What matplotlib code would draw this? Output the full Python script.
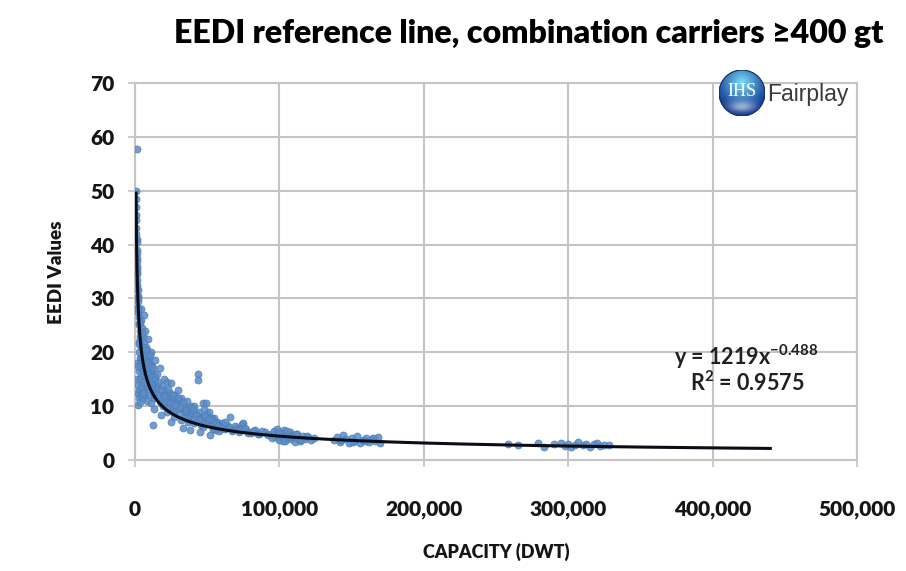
import numpy as np
import matplotlib
matplotlib.use("Agg")
import matplotlib.pyplot as plt
from matplotlib.patches import Circle

plt.rcParams['font.family'] = ['Lato', 'DejaVu Sans']
plt.rcParams['mathtext.fontset'] = 'custom'
plt.rcParams['mathtext.rm'] = 'Lato:bold'
plt.rcParams['mathtext.bf'] = 'Lato:bold'

# Small combination carriers (capacity in DWT, attained EEDI)
small_dwt = [700, 750, 800, 850, 900, 950, 1000, 1050, 1100, 1150, 1200, 1250,
             1300, 1300, 1350, 1400, 1450, 1500, 1600, 1700, 1800, 1900, 2000,
             2100, 2200, 2400, 2600, 2800, 3000, 3200, 3500, 3800, 4000, 4500,
             5000, 5500, 6000, 6500, 7000, 7500, 8000, 9000, 9500, 10000, 11000,
             12000, 13000, 14000,
             1200, 1500, 1800, 2000, 2200, 2500, 2800, 3000, 3300, 3500, 4000,
             4200, 4500, 5000, 5500, 6000, 6500, 7000, 7500, 8000, 8500, 9000,
             9500, 10000, 10500, 11000, 11500, 12000, 12700, 13000, 13500, 14000,
             14500,
             3000, 3500, 4000, 4500, 5000, 5500, 6000, 6500, 7000, 7500, 8000,
             8500, 9000, 10000, 11000, 12000, 13000, 14000,
             1600, 2300, 2700, 3100, 3600, 4100, 4700, 5200, 5800, 6300, 6800,
             7300, 7800, 8300, 8800, 9300, 9800, 10300, 10800, 11300, 11800,
             12300, 12800, 13300, 13800, 14300, 2400, 3400, 4400, 5400, 6400]
small_eedi = [50.0, 48.5, 47.0, 45.5, 44.5, 43.0, 42.0, 41.0, 40.5, 39.0, 38.5, 37.5,
              57.8, 37.0, 36.0, 35.5, 35.0, 34.5, 33.5, 32.5, 31.5, 30.5, 30.0,
              29.5, 28.5, 27.5, 26.5, 25.5, 25.0, 24.0, 23.0, 22.5, 26.0, 28.0,
              24.5, 23.0, 27.0, 22.0, 24.0, 21.0, 20.5, 22.5, 19.0, 18.0, 20.0,
              17.5, 16.0, 18.5,
              18.0, 15.0, 12.5, 10.2, 14.0, 11.5, 16.5, 13.0, 19.0, 10.8, 15.5,
              12.0, 17.0, 14.0, 11.5, 13.0, 16.5, 12.0, 18.0, 14.5, 11.0, 13.5,
              16.0, 12.0, 14.5, 10.5, 13.0, 15.0, 6.5, 11.5, 9.5, 12.5,
              14.0,
              20.0, 17.5, 19.0, 21.0, 18.5, 20.0, 16.5, 19.5, 17.0, 15.0, 17.5,
              19.0, 16.0, 15.5, 16.5, 13.5, 14.0, 15.5,
              32.0, 28.0, 22.0, 21.5, 25.5, 18.0, 23.5, 16.5, 21.0, 18.5, 20.5,
              14.0, 19.5, 16.0, 18.0, 15.0, 17.0, 19.5, 13.5, 17.5, 15.5,
              14.5, 17.0, 12.0, 15.0, 13.0, 17.5, 15.0, 13.5, 12.5, 14.5]

# Medium-size carriers
mid_dwt = [15000, 15500, 16000, 17000, 17500, 18000, 18500, 19000, 20000, 20500,
           21000, 22000, 22500, 23000, 24000, 25000, 25500, 26000, 27000, 28000,
           29000, 30000, 30500, 31000, 32000, 33000, 34000, 35000, 36000, 37000,
           38000, 39000, 40000, 41000, 42000, 43700, 43700, 44000, 45000, 46000,
           47000, 48000, 49000, 50000, 51000, 52000, 53000, 54000, 55000, 56000,
           57000, 58000, 60000, 62000, 64000, 66000, 68000, 70000, 72000, 74000,
           75000, 77000, 80000, 83000, 86000, 90000,
           25000, 33000, 38000, 45000, 52000,
           16500, 19500, 21500, 23500, 26500, 28500, 31500, 34500, 36500, 39500,
           42500, 46500, 48500, 50500, 53500, 56500, 59000, 61000, 63000, 65000,
           67000, 69000, 71000, 73000, 76000, 78000, 82000, 85000, 88000, 92000,
           18000, 22000, 27000, 32000, 37000, 41000, 47000, 54000, 58000,
           16000, 18500, 21000, 24000, 26000, 29500, 33500, 35500, 38500, 40500,
           44500, 48000, 51500, 55500, 57500, 60500, 62500, 20000, 23000, 28000]
mid_eedi = [16.0, 12.5, 13.5, 17.0, 11.0, 8.3, 14.0, 12.0, 15.0, 10.5,
            13.0, 11.5, 14.5, 9.5, 12.5, 14.3, 10.0, 11.5, 9.0, 12.0,
            10.5, 13.0, 8.5, 11.0, 11.5, 9.5, 10.0, 8.2, 11.0, 9.0,
            7.5, 10.0, 8.5, 10.0, 7.2, 15.9, 14.8, 9.0, 8.0, 6.5,
            10.5, 7.5, 10.6, 8.5, 9.0, 6.8, 7.8, 6.0, 7.8, 5.5,
            7.0, 6.2, 6.8, 5.8, 6.5, 8.0, 5.6, 6.0, 5.2, 6.6,
            6.9, 5.5, 5.0, 5.6, 4.8, 5.2,
            7.0, 5.9, 5.5, 5.2, 4.6,
            12.0, 10.0, 12.5, 11.0, 10.5, 9.5, 9.8, 9.0, 8.0, 8.8,
            8.6, 7.8, 8.2, 7.2, 7.4, 6.6, 6.0, 6.4, 5.9, 6.2,
            5.4, 6.3, 5.7, 5.5, 5.9, 5.1, 5.4, 4.9, 5.3, 4.7,
            10.5, 9.0, 8.0, 7.5, 7.0, 6.8, 6.2, 5.8, 5.3,
            14.5, 13.0, 11.0, 10.5, 12.0, 11.5, 10.8, 9.2, 9.6, 9.4,
            7.6, 9.4, 7.6, 6.8, 6.4, 5.9, 7.0, 11.8, 13.2, 10.2]

# Large carriers
large_dwt = [94000, 96000, 97000, 98000, 99000, 100000, 101000, 102000, 103000,
             104000, 105000, 106000, 107000, 108000, 109000, 110000, 111000,
             112000, 113000, 114000, 116000, 118000, 120000, 122000, 124000,
             95000, 99500, 102500, 105500, 108500, 111500, 115000, 119000,
             138000, 140000, 142000, 144000, 146000, 148000, 150000, 152000,
             154000, 156000, 158000, 160000, 162000, 164000, 166000, 168000,
             170000, 143000, 151000, 159000, 165000,
             258000, 265000, 279000, 283000, 290000, 295000, 298000, 300000,
             302000, 305000, 307000, 310000, 312000, 315000, 318000, 320000,
             322000, 325000, 328000]
large_eedi = [4.8, 5.3, 4.2, 5.8, 4.5, 3.8, 5.0, 4.4, 5.6,
              3.5, 4.7, 4.1, 5.2, 3.9, 4.6, 4.3, 3.3,
              4.8, 4.0, 3.6, 4.4, 3.9, 4.2, 3.7, 4.0,
              4.0, 5.0, 3.6, 5.4, 4.4, 4.9, 3.8, 4.5,
              3.8, 4.2, 3.4, 4.6, 3.9, 3.2, 4.0, 3.6,
              4.4, 3.1, 3.8, 4.1, 3.4, 3.9, 3.5, 4.3,
              3.2, 3.7, 3.3, 3.6, 4.0,
              3.0, 2.8, 3.1, 2.5, 2.9, 3.2, 2.6, 3.0,
              2.4, 2.8, 3.3, 2.7, 3.0, 2.5, 2.9, 3.1,
              2.6, 2.8, 2.7]

# Power-law reference line  y = a * x^b
fit_coef = 1219
fit_exp = -0.488
fit_r2 = 0.9575
fit_dwt_start = 700
fit_dwt_end = 441000

x_ticks = [0, 100000, 200000, 300000, 400000, 500000]
y_ticks = [0, 10, 20, 30, 40, 50, 60, 70]

W, H = 906, 571
fig = plt.figure(figsize=(W / 100, H / 100), dpi=100)
fig.patch.set_facecolor('white')


def px(x0, y0, w, h):
    return [x0 / W, 1 - (y0 + h) / H, w / W, h / H]


ax = fig.add_axes(px(135, 83, 722, 377))

grid_c = '#c4c4c4'
dot_c = '#5b8cc6'
text_c = '#151515'

dwt = np.array(small_dwt + mid_dwt + large_dwt, dtype=float)
eedi = np.array(small_eedi + mid_eedi + large_eedi, dtype=float)
ax.scatter(dwt, eedi, s=26, color=dot_c, edgecolor='#4a7bb5', linewidths=0.5,
           alpha=0.85, zorder=3)

xs = np.geomspace(fit_dwt_start, fit_dwt_end, 600)
ax.plot(xs, fit_coef * xs ** fit_exp, color='#0a0d18', lw=2.2, zorder=4,
        solid_capstyle='butt')

ax.set_xlim(x_ticks[0], x_ticks[-1])
ax.set_ylim(y_ticks[0], y_ticks[-1])
ax.set_xticks(x_ticks)
ax.set_yticks(y_ticks)
ax.set_xticklabels([f"{v:,}" for v in x_ticks])
ax.set_yticklabels([str(v) for v in y_ticks])
ax.grid(True, color=grid_c, lw=1.5)
ax.set_axisbelow(True)
for s in ax.spines.values():
    s.set_color(grid_c)
    s.set_linewidth(1.5)
ax.tick_params(axis='both', direction='out', length=5, width=1.2, color=grid_c,
               labelsize=15, labelcolor=text_c)
ax.tick_params(axis='y', pad=10)
ax.tick_params(axis='x', pad=24)
for lab in ax.get_xticklabels() + ax.get_yticklabels():
    lab.set_fontweight('heavy')

fig.text(496 / W, 1 - 552 / H, 'CAPACITY (DWT)', ha='center', va='center',
         fontsize=13, fontweight='heavy', color=text_c)
fig.text(56 / W, 1 - 272 / H, 'EEDI Values', ha='center', va='center',
         rotation=90, fontsize=13.5, fontweight='heavy', color=text_c)

# title, sized to span its box
title = fig.text(529 / W, 1 - 33 / H,
                 'EEDI reference line, combination carriers \u2265400 gt',
                 ha='center', va='center', fontsize=20, fontweight='heavy',
                 color='#000000')
fig.canvas.draw()
tw = title.get_window_extent().width
title.set_fontsize(20 * 711 / tw)

ax.text(0.846, (460 - 357) / 377, r'y = 1219x$^{-0.488}$', transform=ax.transAxes,
        ha='center', va='center', fontsize=15.5, fontweight='bold', color='#202020')
ax.text(0.848, (460 - 383) / 377, r'R$^{2}$ = 0.9575', transform=ax.transAxes,
        ha='center', va='center', fontsize=15.5, fontweight='bold', color='#202020')

# IHS Fairplay badge
lax = fig.add_axes(px(719, 70, 46, 46))
lax.set_xlim(-1, 1)
lax.set_ylim(-1, 1)
lax.set_aspect('equal')
lax.axis('off')
g = np.linspace(-1, 1, 200)
gx, gy = np.meshgrid(g, g)
d = np.sqrt(gx ** 2 + (gy + 0.45) ** 2)
t = np.clip(1 - d / 1.3, 0, 1)
edge = np.array([0.04, 0.20, 0.55])
glow = np.array([0.50, 0.88, 0.98])
img = edge + (glow - edge) * t[..., None] ** 1.1
hl = np.exp(-((gx) ** 2 / 0.35 + (gy - 0.6) ** 2 / 0.06))
img = img + (1 - img) * 0.55 * hl[..., None]
im = lax.imshow(np.clip(img, 0, 1), extent=[-1, 1, -1, 1], origin='upper')
im.set_clip_path(Circle((0, 0), 1, transform=lax.transData))
lax.add_patch(Circle((0, 0), 1, fill=False, edgecolor='#0a2a66', lw=0.8))
lax.text(0, 0.05, 'IHS', ha='center', va='center', color='white', fontsize=13,
         family=['Liberation Serif', 'DejaVu Serif'])
fig.text(767 / W, 1 - 94 / H, 'Fairplay', ha='left', va='center', fontsize=16.5,
         color='#3a3a3a', family=['Liberation Sans', 'DejaVu Sans'])

fig.savefig('out.png', dpi=100, facecolor='white')
